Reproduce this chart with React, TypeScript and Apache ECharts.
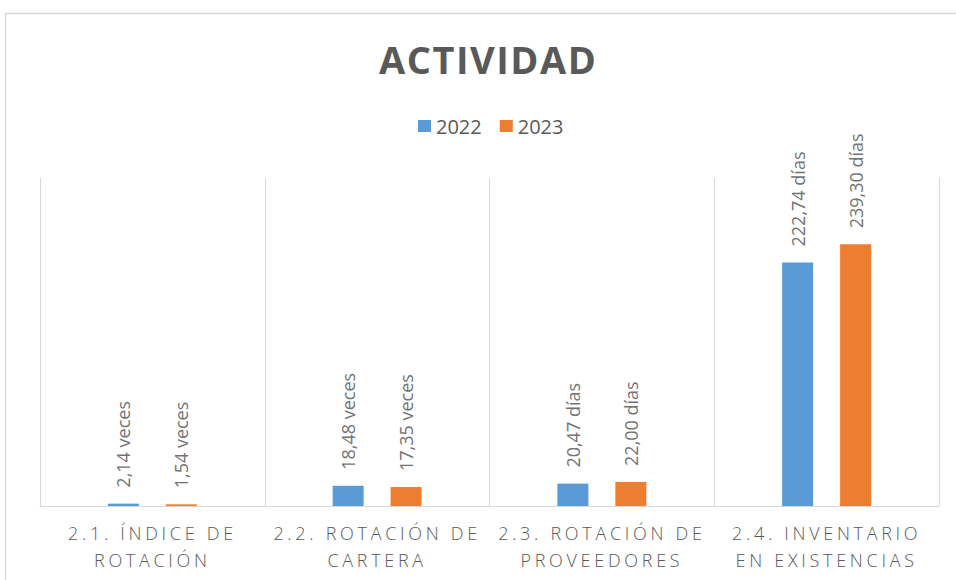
import React, { useEffect, useRef } from "react";
import * as echarts from "echarts";

const TITLE = "ACTIVIDAD";
const categories = [
  "2.1. ÍNDICE DE\nROTACIÓN",
  "2.2. ROTACIÓN DE\nCARTERA",
  "2.3. ROTACIÓN DE\nPROVEEDORES",
  "2.4. INVENTARIO\nEN EXISTENCIAS",
];
const units = ["veces", "veces", "días", "días"];
const seriesNames = ["2022", "2023"];
const values2022 = [2.14, 18.48, 20.47, 222.74];
const values2023 = [1.54, 17.35, 22.0, 239.3];
const colors = ["#5B9BD5", "#ED7D31"];

const FONT = "'Open Sans', 'Noto Sans', sans-serif";

function fmt(v: number, idx: number) {
  return v.toFixed(2).replace(".", ",") + " " + units[idx];
}

export default function App() {
  const ref = useRef<HTMLDivElement>(null);
  useEffect(() => {
    if (!ref.current) return;
    const chart = echarts.init(ref.current, undefined, { renderer: "svg" });
    const mkSeries = (name: string, data: number[], color: string) => ({
      name,
      type: "bar",
      data,
      barWidth: 31,
      barGap: "87%",
      itemStyle: { color },
      label: {
        show: true,
        position: "top",
        rotate: 90,
        align: "left",
        verticalAlign: "middle",
        distance: 16,
        fontFamily: FONT,
        fontSize: 18,
        color: "#737373",
        formatter: (p: any) => fmt(p.value, p.dataIndex),
      },
    });
    chart.setOption({
      animation: false,
      backgroundColor: "#ffffff",
      title: {
        text: TITLE,
        left: 374,
        top: 35,
        textStyle: {
          fontFamily: FONT,
          fontSize: 38,
          fontWeight: "bold",
          color: "#595959",
        },
      },
      legend: {
        data: seriesNames,
        top: 116,
        left: 418,
        padding: 0,
        icon: "rect",
        itemWidth: 13,
        itemHeight: 12,
        itemGap: 18,
        textStyle: { fontFamily: FONT, fontSize: 20, color: "#595959" },
      },
      graphic: [
        {
          type: "rect",
          shape: { x: 5.5, y: 13.5, width: 1000, height: 700 },
          style: { fill: "none", stroke: "#D9D9D9", lineWidth: 1.5 },
          silent: true,
          z: -1,
        },
      ],
      grid: { left: 40, right: 17, top: 178, bottom: 74 },
      xAxis: {
        type: "category",
        data: categories,
        axisLine: { show: true, lineStyle: { color: "#D9D9D9", width: 1 } },
        axisTick: { show: false },
        splitLine: { show: true, lineStyle: { color: "#D9D9D9", width: 1 } },
        axisLabel: {
          interval: 0,
          margin: 13,
          fontFamily: FONT,
          fontSize: 18,
          fontWeight: 300,
          lineHeight: 27,
          color: "#595959",
        },
      },
      yAxis: {
        type: "value",
        min: 0,
        max: 300,
        interval: 50,
        show: false,
        splitLine: { show: false },
      },
      series: [
        mkSeries(seriesNames[0], values2022, colors[0]),
        mkSeries(seriesNames[1], values2023, colors[1]),
      ],
    });
    const catLines = categories.flatMap((c) => c.split("\n"));
    ref.current.querySelectorAll("text").forEach((t) => {
      const s = (t.textContent || "").trim();
      if (catLines.includes(s)) t.setAttribute("letter-spacing", "3.7");
      if (s === TITLE) t.setAttribute("letter-spacing", "1.5");
    });
    return () => chart.dispose();
  }, []);
  return (
    <div
      ref={ref}
      style={{ position: "absolute", left: 0, top: 0, width: 956, height: 580 }}
    />
  );
}
